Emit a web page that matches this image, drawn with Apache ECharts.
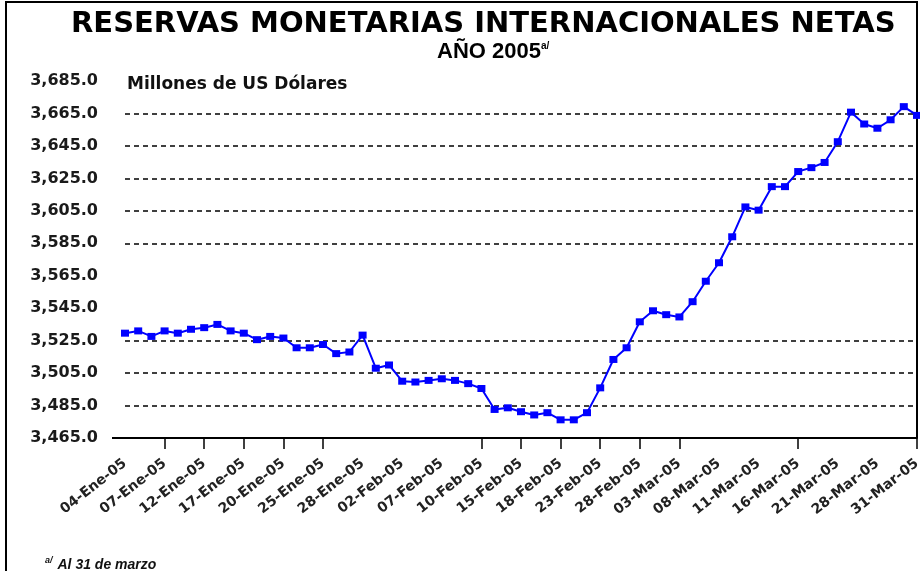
<!DOCTYPE html>
<html>
<head>
<meta charset="utf-8">
<script src="https://cdn.jsdelivr.net/npm/echarts@6/dist/echarts.min.js"></script>
<style>
  html, body { margin: 0; padding: 0; background: #fff; }
  #chart { width: 920px; height: 571px; }
</style>
</head>
<body>
<div id="chart"></div>
<script>
// fechas (dias habiles)
var dates = [
  '04-Ene-05','05-Ene-05','06-Ene-05','07-Ene-05','10-Ene-05','11-Ene-05','12-Ene-05','13-Ene-05','14-Ene-05','17-Ene-05',
  '18-Ene-05','19-Ene-05','20-Ene-05','21-Ene-05','24-Ene-05','25-Ene-05','26-Ene-05','27-Ene-05','28-Ene-05','31-Ene-05',
  '01-Feb-05','02-Feb-05','03-Feb-05','04-Feb-05','07-Feb-05','08-Feb-05','09-Feb-05','10-Feb-05','11-Feb-05','14-Feb-05',
  '15-Feb-05','16-Feb-05','17-Feb-05','18-Feb-05','21-Feb-05','22-Feb-05','23-Feb-05','24-Feb-05','25-Feb-05','28-Feb-05',
  '01-Mar-05','02-Mar-05','03-Mar-05','04-Mar-05','07-Mar-05','08-Mar-05','09-Mar-05','10-Mar-05','11-Mar-05','14-Mar-05',
  '15-Mar-05','16-Mar-05','17-Mar-05','18-Mar-05','21-Mar-05','22-Mar-05','23-Mar-05','28-Mar-05','29-Mar-05','30-Mar-05',
  '31-Mar-05'
];
// millones de US$
var reservas = [
  3529.6, 3531.0, 3527.6, 3531.0, 3529.6, 3532.0, 3533.0, 3535.0, 3531.0, 3529.6,
  3525.6, 3527.6, 3526.6, 3520.6, 3520.6, 3522.6, 3517.0, 3518.0, 3528.4, 3508.0,
  3510.0, 3500.0, 3499.5, 3500.5, 3501.5, 3500.5, 3498.5, 3495.5, 3482.6, 3483.6,
  3481.2, 3479.2, 3480.6, 3476.2, 3476.2, 3480.6, 3495.9, 3513.4, 3520.6, 3536.6,
  3543.4, 3541.0, 3539.6, 3549.0, 3561.6, 3573.0, 3589.0, 3607.4, 3605.4, 3619.9,
  3619.9, 3629.2, 3631.6, 3634.8, 3647.6, 3665.8, 3658.5, 3655.9, 3661.1, 3669.2,
  3663.8
];
// fechas que llevan marca en el eje
var tickDates = ['07-Ene-05','12-Ene-05','17-Ene-05','20-Ene-05','25-Ene-05','10-Feb-05','15-Feb-05',
  '18-Feb-05','23-Feb-05','28-Feb-05','03-Mar-05','16-Mar-05','31-Mar-05'];
// lineas punteadas horizontales
var gridValues = [3485, 3505, 3525, 3585, 3605, 3625, 3645, 3665];

var yMin = 3465, yMax = 3685, yStep = 20;

function fmt(v) {
  return v.toLocaleString('en-US', { minimumFractionDigits: 1, maximumFractionDigits: 1 });
}

var chart = echarts.init(document.getElementById('chart'));
var option = {
  backgroundColor: '#fff',
  animation: false,
  title: [
    {
      text: 'RESERVAS MONETARIAS INTERNACIONALES NETAS',
      left: 66, top: 5,
      textStyle: { fontFamily: 'DejaVu Sans', fontWeight: 'bold', fontSize: 29, color: '#000' }
    },
    {
      text: '{a|AÑO 2005}{s|a/}',
      left: 432, top: 36,
      textStyle: {
        rich: {
          a: { fontFamily: 'Liberation Sans', fontSize: 22, color: '#000' },
          s: { fontFamily: 'Liberation Sans', fontSize: 10, color: '#000', verticalAlign: 'top' }
        }
      }
    },
    {
      text: 'Millones de US Dólares',
      left: 122, top: 71,
      textStyle: { fontFamily: 'DejaVu Sans', fontWeight: 'bold', fontSize: 17, color: '#111' }
    },
    {
      text: '{s|a/} {a|Al 31 de marzo}',
      left: 40, top: 551,
      textStyle: {
        rich: {
          s: { fontFamily: 'Liberation Sans', fontSize: 9, fontStyle: 'italic', color: '#111', verticalAlign: 'top' },
          a: { fontFamily: 'Liberation Sans', fontSize: 14, fontStyle: 'italic', fontWeight: 'bold', color: '#111' }
        }
      }
    }
  ],
  grid: { left: 125, right: 3, top: 81, bottom: 133, outerBoundsMode: 'none' },
  xAxis: {
    type: 'category',
    data: dates,
    boundaryGap: false,
    axisLine: { lineStyle: { color: '#000', width: 2 } },
    axisTick: {
      show: true,
      length: 11,
      interval: function (idx, val) { return tickDates.indexOf(dates[idx]) >= 0; },
      lineStyle: { color: '#000', width: 1.5 }
    },
    axisLabel: {
      interval: 2,
      rotate: 38,
      margin: 24,
      fontFamily: 'DejaVu Sans',
      fontWeight: 'bold',
      fontSize: 14,
      color: '#222'
    },
    splitLine: { show: false }
  },
  yAxis: {
    type: 'value',
    min: yMin, max: yMax, interval: yStep,
    axisLine: { show: false },
    axisTick: { show: false },
    splitLine: { show: false },
    axisLabel: {
      margin: 27,
      formatter: fmt,
      fontFamily: 'DejaVu Sans',
      fontWeight: 'bold',
      fontSize: 16,
      color: '#1a1a1a'
    }
  },
  graphic: [
    {
      type: 'polyline',
      silent: true,
      shape: { points: [[917, 438], [917, 2], [6, 2], [6, 571]] },
      style: { stroke: '#000', lineWidth: 2, fill: null }
    },
    {
      type: 'line',
      silent: true,
      shape: { x1: 112, y1: 438, x2: 126, y2: 438 },
      style: { stroke: '#000', lineWidth: 2 }
    }
  ],
  series: [{
    type: 'line',
    data: reservas,
    symbol: 'rect',
    symbolSize: [8, 7],
    showAllSymbol: true,
    lineStyle: { color: '#0000ff', width: 2 },
    itemStyle: { color: '#0000ff' },
    z: 5,
    markLine: {
      silent: true,
      symbol: 'none',
      label: { show: false },
      lineStyle: { color: '#000', type: [5, 4], width: 1.6 },
      data: gridValues.map(function (v) { return { yAxis: v }; }),
      z: 1
    }
  }]
};
chart.setOption(option);
</script>
</body>
</html>
